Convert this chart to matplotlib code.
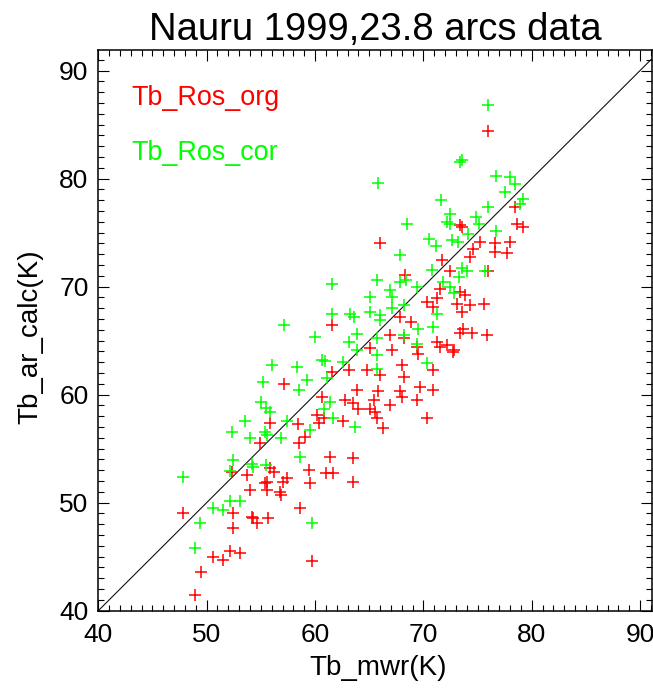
import numpy as np
import matplotlib
matplotlib.use("Agg")
import matplotlib.pyplot as plt
from matplotlib.ticker import MultipleLocator

plt.rcParams['font.family'] = ['Liberation Sans', 'DejaVu Sans']

# Tb_Ros_org (red)
org_x = [76.0, 78.5, 73.4, 73.6, 78.6, 79.2, 75.2, 76.6, 77.95, 74.6,
         76.6, 77.7, 66.0, 74.3, 71.7, 72.5, 76.0, 68.3, 71.55, 73.4,
         73.85, 70.3, 71.25, 70.9, 73.1, 74.3, 75.55, 73.55, 61.55, 67.85,
         68.9, 73.7, 73.4, 74.5, 75.9, 71.25, 72.2, 72.8, 72.7, 71.55,
         69.4, 69.55, 68.2, 66.9, 67.1, 65.1, 64.8, 66.0, 57.1, 61.55,
         63.1, 68.0, 68.2, 70.9, 63.85, 65.85, 67.85, 68.0, 69.7, 70.9,
         69.4, 62.8, 63.55, 64.0, 65.4, 65.1, 65.55, 65.7, 66.9, 70.3,
         60.6, 60.2, 60.8, 62.6, 60.4, 55.85, 58.4, 66.3, 54.9, 58.5,
         59.1, 61.4, 63.55, 52.3, 55.85, 53.7, 56.2, 59.4, 61.0, 61.7,
         63.55, 59.55, 57.4, 57.0, 55.4, 55.55, 54.0, 55.55, 56.8, 56.9,
         52.45, 47.85, 54.2, 54.3, 55.7, 54.6, 52.45, 58.6, 50.6, 51.55,
         52.15, 53.1, 49.45, 59.7, 48.9]
org_y = [84.4, 77.4, 75.7, 75.5, 75.8, 75.5, 74.1, 74.0, 74.1, 73.5,
         73.2, 73.1, 74.0, 72.75, 72.45, 71.4, 71.4, 71.05, 69.8, 69.5,
         69.2, 68.6, 68.9, 68.1, 68.4, 68.3, 68.35, 67.65, 66.4, 67.2,
         66.7, 66.1, 65.75, 65.7, 65.5, 64.9, 64.6, 64.1, 63.9, 64.4,
         64.4, 63.8, 65.2, 65.5, 64.1, 64.3, 62.3, 61.8, 61.0, 62.1,
         62.3, 62.7, 61.65, 62.3, 60.4, 60.3, 60.3, 59.8, 60.7, 60.4,
         59.5, 59.5, 59.2, 58.7, 59.5, 58.7, 58.4, 57.8, 59.0, 57.8,
         59.8, 58.1, 57.8, 57.6, 57.4, 57.4, 57.3, 56.9, 55.5, 55.5,
         56.1, 54.25, 54.1, 52.85, 53.2, 52.55, 52.85, 53.0, 52.7, 52.7,
         51.9, 51.8, 52.25, 51.9, 51.8, 51.9, 51.15, 51.15, 51.0, 50.7,
         49.0, 49.05, 48.7, 48.55, 48.55, 48.1, 47.7, 49.5, 44.95, 44.7,
         45.55, 45.35, 43.6, 44.6, 41.45]

# Tb_Ros_cor (green)
cor_x = [76.0, 73.4, 73.6, 76.7, 77.95, 78.5, 77.55, 79.2, 78.9, 65.8,
         71.6, 72.5, 72.2, 72.5, 74.9, 75.1, 76.0, 68.5, 76.7, 74.1,
         70.5, 71.2, 72.6, 73.2, 67.8, 70.8, 73.55, 74.0, 75.7, 67.85,
         65.7, 61.55, 69.4, 71.85, 72.5, 72.8, 66.9, 65.1, 67.1, 71.25,
         68.2, 67.1, 65.1, 66.0, 63.2, 63.6, 61.55, 57.1, 66.0, 69.55,
         70.9, 69.4, 68.2, 65.7, 63.85, 63.1, 60.0, 60.6, 60.9, 62.6,
         63.85, 65.7, 65.7, 56.0, 58.3, 59.25, 58.5, 55.2, 61.1, 70.3,
         61.4, 60.8, 55.0, 55.5, 55.85, 57.4, 53.55, 61.7, 63.7, 52.3,
         54.0, 55.4, 55.6, 56.9, 59.55, 58.6, 52.45, 52.2, 54.2, 54.3,
         55.5, 52.2, 53.1, 50.6, 51.55, 49.4, 59.7, 48.9, 47.85, 68.4,
         73.3]
cor_y = [86.8, 81.5, 81.7, 80.2, 80.15, 79.5, 78.8, 78.15, 77.6, 79.6,
         78.0, 76.7, 76.0, 75.8, 76.4, 75.8, 77.4, 75.8, 75.1, 74.9,
         74.45, 73.8, 74.3, 74.1, 72.9, 71.5, 71.7, 71.4, 71.4, 70.4,
         70.6, 70.2, 70.0, 70.4, 70.0, 69.4, 69.7, 69.05, 69.05, 67.5,
         68.3, 68.0, 67.65, 67.35, 67.5, 67.2, 67.5, 66.4, 66.9, 66.1,
         66.3, 64.7, 65.5, 65.2, 65.65, 64.9, 65.35, 63.2, 63.1, 63.0,
         64.1, 63.65, 62.4, 62.7, 62.6, 61.35, 60.4, 61.2, 61.5, 62.9,
         59.3, 58.7, 59.3, 58.8, 58.4, 57.6, 57.6, 57.8, 57.0, 56.55,
         55.95, 56.55, 56.3, 55.95, 56.7, 54.25, 53.95, 52.9, 53.6, 53.3,
         53.5, 50.2, 50.2, 49.55, 49.3, 48.1, 48.15, 45.8, 52.35, 70.6,
         70.9]

x_range = [40, 91.1]
y_range = [40, 91.9]

W, H = 653, 689
fig = plt.figure(figsize=(W / 100, H / 100), dpi=100)
# axes box in pixels: left 98, right 652, top 50, bottom 611
ax = fig.add_axes([98.3 / W, (H - 610.7) / H, (652 - 98.3) / W, (610.7 - 50) / H])

ax.plot(org_x, org_y, '+', color='#ff0000', ms=8.8, mew=1.1, zorder=3)
ax.plot(cor_x, cor_y, '+', color='#00ff00', ms=8.8, mew=1.1, zorder=4)
ax.plot([40, 95], [40, 95], color='#111111', lw=0.8, zorder=2)

ax.set_xlim(x_range)
ax.set_ylim(y_range)
ax.xaxis.set_major_locator(MultipleLocator(10))
ax.yaxis.set_major_locator(MultipleLocator(10))
ax.xaxis.set_minor_locator(MultipleLocator(1))
ax.yaxis.set_minor_locator(MultipleLocator(1))
ax.tick_params(which='both', direction='in', top=True, right=True,
               width=0.8, colors='black')
ax.tick_params(which='major', length=8)
ax.tick_params(which='minor', length=4.3)
ax.tick_params(axis='x', which='major', labelsize=19, pad=9)
ax.tick_params(axis='y', which='major', labelsize=19, pad=7)
for s in ax.spines.values():
    s.set_linewidth(1.1)

fig.text(375 / W, 1 - 30 / H, 'Nauru 1999,23.8 arcs data', fontsize=27.5,
         ha='center', va='center')
fig.text(378 / W, 1 - 668 / H, 'Tb_mwr(K)', fontsize=20, ha='center', va='center')
fig.text(30 / W, 1 - 337 / H, 'Tb_ar_calc(K)', fontsize=20, rotation=90,
         ha='center', va='center')
fig.text(131.7 / W, 1 - 105 / H, 'Tb_Ros_org', fontsize=19.4, color='#ff0000',
         ha='left', va='baseline')
fig.text(131.7 / W, 1 - 160 / H, 'Tb_Ros_cor', fontsize=19.4, color='#00ff00',
         ha='left', va='baseline')

fig.savefig('out.png', dpi=100)
